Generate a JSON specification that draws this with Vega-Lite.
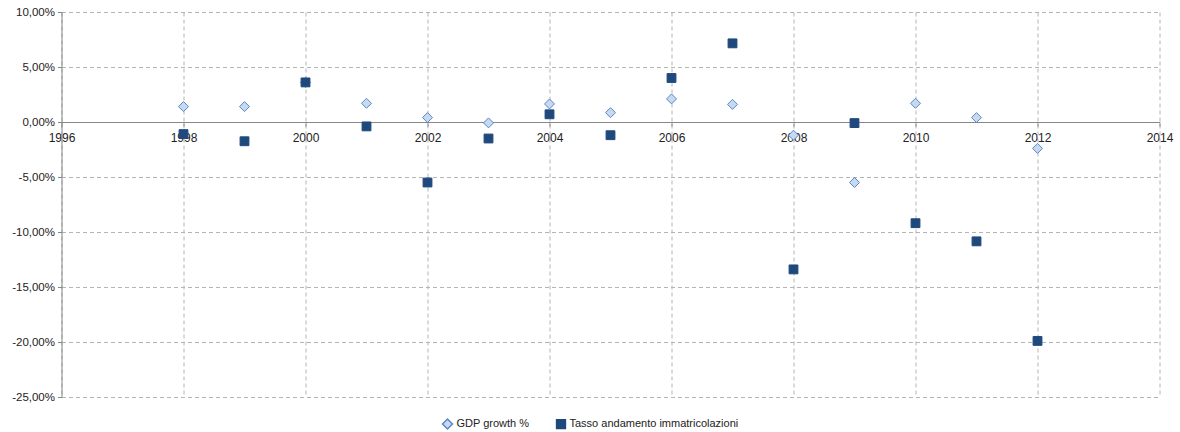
{
  "$schema": "https://vega.github.io/schema/vega-lite/v6.json",
  "width": 1098,
  "height": 385,
  "autosize": {"type": "none"},
  "padding": {"left": 61.5, "top": 12, "right": 20.5, "bottom": 35},
  "background": "white",
  "data": {
    "values": [
      {"year": 1998, "series": "GDP growth %", "value": 0.014},
      {"year": 1999, "series": "GDP growth %", "value": 0.014},
      {"year": 2000, "series": "GDP growth %", "value": 0.036},
      {"year": 2001, "series": "GDP growth %", "value": 0.017},
      {"year": 2002, "series": "GDP growth %", "value": 0.004},
      {"year": 2003, "series": "GDP growth %", "value": -0.0008},
      {"year": 2004, "series": "GDP growth %", "value": 0.0164},
      {"year": 2005, "series": "GDP growth %", "value": 0.0085},
      {"year": 2006, "series": "GDP growth %", "value": 0.021},
      {"year": 2007, "series": "GDP growth %", "value": 0.016},
      {"year": 2008, "series": "GDP growth %", "value": -0.012},
      {"year": 2009, "series": "GDP growth %", "value": -0.055},
      {"year": 2010, "series": "GDP growth %", "value": 0.017},
      {"year": 2011, "series": "GDP growth %", "value": 0.004},
      {"year": 2012, "series": "GDP growth %", "value": -0.024},
      {"year": 1998, "series": "Tasso andamento  immatricolazioni", "value": -0.011},
      {"year": 1999, "series": "Tasso andamento  immatricolazioni", "value": -0.0175},
      {"year": 2000, "series": "Tasso andamento  immatricolazioni", "value": 0.036},
      {"year": 2001, "series": "Tasso andamento  immatricolazioni", "value": -0.004},
      {"year": 2002, "series": "Tasso andamento  immatricolazioni", "value": -0.055},
      {"year": 2003, "series": "Tasso andamento  immatricolazioni", "value": -0.015},
      {"year": 2004, "series": "Tasso andamento  immatricolazioni", "value": 0.007},
      {"year": 2005, "series": "Tasso andamento  immatricolazioni", "value": -0.012},
      {"year": 2006, "series": "Tasso andamento  immatricolazioni", "value": 0.04},
      {"year": 2007, "series": "Tasso andamento  immatricolazioni", "value": 0.0715},
      {"year": 2008, "series": "Tasso andamento  immatricolazioni", "value": -0.134},
      {"year": 2009, "series": "Tasso andamento  immatricolazioni", "value": -0.001},
      {"year": 2010, "series": "Tasso andamento  immatricolazioni", "value": -0.092},
      {"year": 2011, "series": "Tasso andamento  immatricolazioni", "value": -0.1085},
      {"year": 2012, "series": "Tasso andamento  immatricolazioni", "value": -0.199}
    ]
  },
  "mark": {"type": "point", "filled": true, "opacity": 1, "strokeWidth": 1, "strokeOpacity": 1},
  "encoding": {
    "x": {
      "field": "year",
      "type": "quantitative",
      "scale": {"domain": [1996, 2014], "nice": false, "zero": false},
      "axis": {
        "title": null,
        "values": [1996, 1998, 2000, 2002, 2004, 2006, 2008, 2010, 2012, 2014],
        "format": "d",
        "offset": -275,
        "grid": true,
        "gridDash": [4, 3],
        "gridColor": "#b4b4b4",
        "domainColor": "#888888",
        "tickColor": "#888888",
        "tickSize": 4,
        "labelPadding": 6,
        "labelFontSize": 12,
        "labelFlush": false,
        "labelOverlap": false
      }
    },
    "y": {
      "field": "value",
      "type": "quantitative",
      "scale": {"domain": [-0.25, 0.1], "nice": false, "zero": false},
      "axis": {
        "title": null,
        "values": [-0.25, -0.2, -0.15, -0.1, -0.05, 0, 0.05, 0.1],
        "labelExpr": "replace(replace(format(datum.value, '.2%'), '.', ','), '\u2212', '-')",
        "grid": true,
        "gridDash": [4, 3],
        "gridColor": "#b4b4b4",
        "domainColor": "#888888",
        "tickColor": "#888888",
        "tickSize": 4,
        "labelPadding": 3,
        "labelFontSize": 11.5,
        "labelOverlap": false
      }
    },
    "color": {
      "field": "series",
      "type": "nominal",
      "scale": {"domain": ["GDP growth %", "Tasso andamento  immatricolazioni"], "range": ["#c6d9f1", "#1f497d"]},
      "legend": {
        "title": null,
        "orient": "none",
        "legendX": 380,
        "legendY": 406,
        "direction": "horizontal",
        "columnPadding": 24,
        "labelFontSize": 11,
        "labelFont": "Liberation Sans",
        "labelColor": "#222222",
        "labelLimit": 400,
        "symbolSize": 75,
        "labelOffset": 3,
        "padding": 0
      }
    },
    "stroke": {
      "field": "series",
      "type": "nominal",
      "scale": {"domain": ["GDP growth %", "Tasso andamento  immatricolazioni"], "range": ["#5a88c4", "#1f497d"]}
    },
    "shape": {
      "field": "series",
      "type": "nominal",
      "scale": {"domain": ["GDP growth %", "Tasso andamento  immatricolazioni"], "range": ["diamond", "square"]}
    },
    "size": {
      "field": "series",
      "type": "nominal",
      "scale": {"domain": ["GDP growth %", "Tasso andamento  immatricolazioni"], "range": [100, 78]},
      "legend": null
    }
  },
  "config": {
    "view": {"stroke": null},
    "font": "Liberation Sans",
    "axis": {"labelFont": "Liberation Sans", "labelFontSize": 11, "labelColor": "#222222"}
  }
}
